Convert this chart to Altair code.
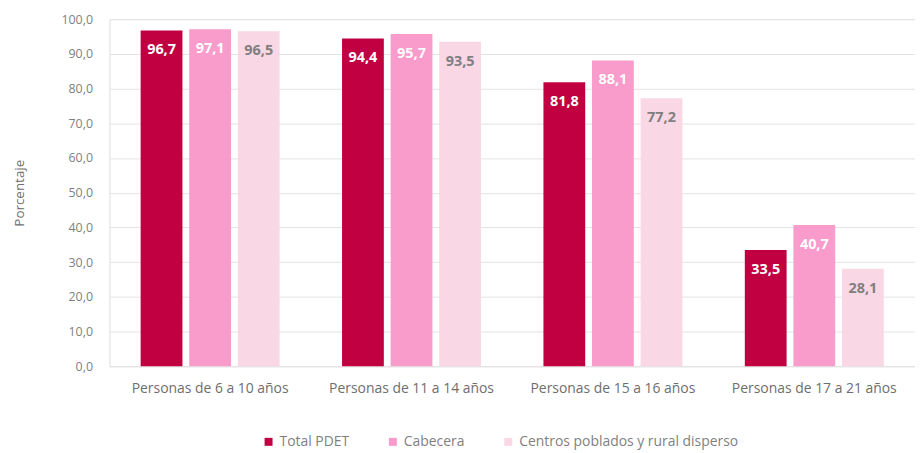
import altair as alt
import pandas as pd

categories = ["Personas de 6 a 10 años", "Personas de 11 a 14 años",
              "Personas de 15 a 16 años", "Personas de 17 a 21 años"]
series = ["Total PDET", "Cabecera", "Centros poblados y rural disperso"]
total_pdet = [96.7, 94.4, 81.8, 33.5]
cabecera = [97.1, 95.7, 88.1, 40.7]
centros = [96.5, 93.5, 77.2, 28.1]
colors = ["#C00040", "#F99BCB", "#FAD7E5"]
label_colors = ["#FFFFFF", "#FFFFFF", "#7F7F7F"]

rows = []
for s, vals, lc in zip(series, [total_pdet, cabecera, centros], label_colors):
    for c, v in zip(categories, vals):
        rows.append({"cat": c, "serie": s, "valor": v, "lc": lc,
                     "txt": f"{v:.1f}".replace(".", ",")})
df = pd.DataFrame(rows)

FONT = "Open Sans"
W, H = 810, 349

x = alt.X("cat:N", sort=categories, title=None,
          scale=alt.Scale(paddingInner=0.31, paddingOuter=0.155),
          axis=alt.Axis(labelAngle=0, labelPadding=15, ticks=False, domain=False,
                        labelFontSize=14, labelColor="#6E6E6E", labelFont=FONT,
                        labelLimit=300))
xo = alt.XOffset("serie:N", sort=series, scale=alt.Scale(paddingInner=0.14))
y = alt.Y("valor:Q", title="Porcentaje",
          scale=alt.Scale(domain=[0, 100], nice=False),
          axis=alt.Axis(values=list(range(0, 101, 10)), ticks=False, domain=False,
                        labelExpr="replace(format(datum.value, '.1f'), '.', ',')",
                        labelPadding=17, labelFontSize=12.5, labelColor="#7F7F7F",
                        labelFont=FONT, titleFont=FONT, titleFontSize=13.5,
                        titleFontWeight="normal", titleColor="#6E6E6E",
                        titleX=-90, titleY=H / 2, titleAngle=-90,
                        titleAlign="center", titleBaseline="middle",
                        gridColor="#E3E3E3"))

bars = alt.Chart(df).mark_bar().encode(
    x=x, xOffset=xo, y=y,
    color=alt.Color("serie:N", sort=series, title=None,
                    scale=alt.Scale(domain=series, range=colors),
                    legend=alt.Legend(orient="none", direction="horizontal",
                                      legendX=153, legendY=418,
                                      symbolType="square", symbolSize=64,
                                      labelFont=FONT, labelFontSize=14,
                                      labelColor="#7F7F7F", columnPadding=36,
                                      labelOffset=4, labelLimit=400,
                                      symbolStrokeWidth=0))
)

text = alt.Chart(df).mark_text(baseline="middle", dy=20, fontWeight="bold",
                               fontSize=14.5, font=FONT).encode(
    x=x, xOffset=xo, y=y,
    text="txt:N",
    color=alt.Color("lc:N", scale=None)
)

chart = alt.layer(bars, text).properties(
    width=W, height=H,
    autosize=alt.AutoSizeParams(type="none"),
    padding={"left": 102, "top": 10, "right": 0, "bottom": 86}
).configure_view(stroke=None).configure(background="white")

chart.save("out.html", embed_options={"renderer": "svg", "actions": False})
